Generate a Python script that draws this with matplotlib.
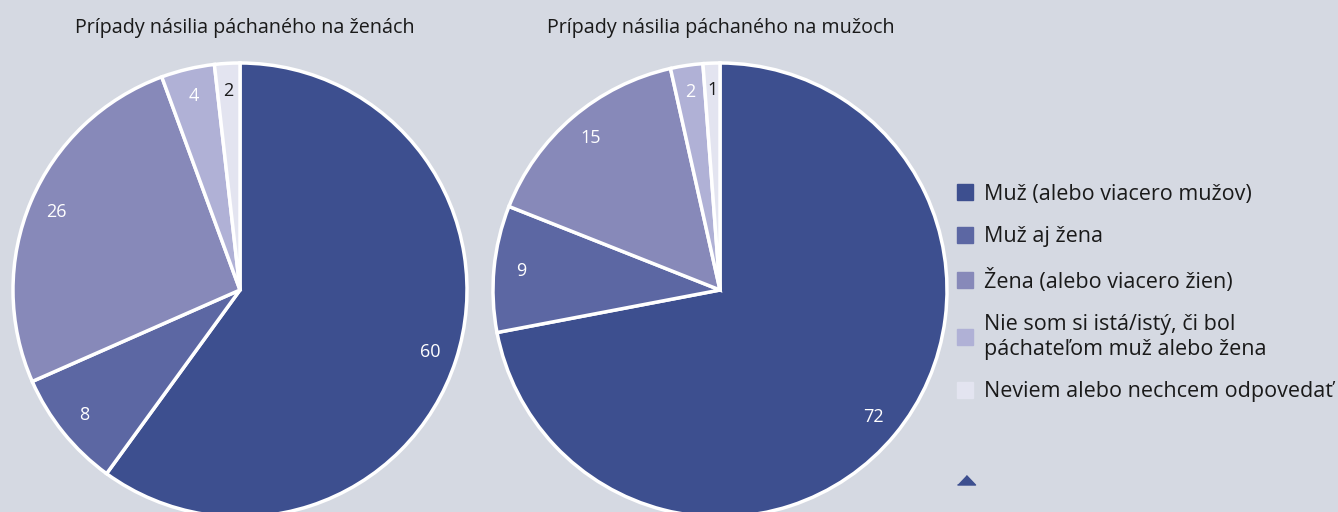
import matplotlib
matplotlib.use("Agg")
import matplotlib.pyplot as plt
from matplotlib.lines import Line2D

W, H = 1338, 512
BG = "#d5d9e2"

categories = [
    "Muž (alebo viacero mužov)",
    "Muž aj žena",
    "Žena (alebo viacero žien)",
    "Nie som si istá/istý, či bol\npáchateľom muž alebo žena",
    "Neviem alebo nechcem odpovedať",
]
# slice sizes (as drawn) and the printed labels
women_values = [60, 8.4, 26, 3.8, 1.8]
women_labels = ["60", "8", "26", "4", "2"]
men_values = [72, 9, 15.5, 2.3, 1.2]
men_labels = ["72", "9", "15", "2", "1"]
titles = ["Prípady násilia páchaného na ženách", "Prípady násilia páchaného na mužoch"]
colors = ["#3d4f8f", "#5c67a3", "#8789b9", "#b0b1d6", "#e3e4f0"]
label_colors = ["white", "white", "white", "white", "#1a1a1a"]

plt.rcParams["font.family"] = ["Open Sans", "DejaVu Sans"]

fig = plt.figure(figsize=(W / 100, H / 100), dpi=100, facecolor=BG)

R = 227
centers = [(240, 290), (720, 290)]
title_x = [245, 721]
for (cx, cy), vals, labs, title, tx in zip(centers, [women_values, men_values],
                                           [women_labels, men_labels], titles, title_x):
    ax = fig.add_axes([(cx - R) / W, (H - cy - R) / H, 2 * R / W, 2 * R / H])
    ax.set_facecolor("none")
    wedges, texts = ax.pie(
        vals, colors=colors, startangle=90, counterclock=False,
        labels=labs, labeldistance=0.88,
        wedgeprops=dict(edgecolor="white", linewidth=2.5),
        textprops=dict(fontsize=13),
        radius=1,
    )
    for t, c in zip(texts, label_colors):
        t.set_color(c)
        t.set_ha("center")
        t.set_va("center")
    ax.set_xlim(-1.0, 1.0)
    ax.set_ylim(-1.0, 1.0)
    ax.set_aspect("equal")
    ax.axis("off")
    for w in wedges:
        w.set_clip_on(False)
    fig.text(tx / W, 1 - 28 / H, title, ha="center", va="center",
             fontsize=14.2, color="#1a1a1a")

handles = [Line2D([], [], marker="s", linestyle="none", markersize=11,
                  markerfacecolor=c, markeredgecolor=c) for c in colors]
leg = fig.legend(handles, categories, loc="upper left",
                 bbox_to_anchor=(957 / W, 1 - 184 / H), frameon=False,
                 fontsize=15.5, handlelength=0.7, handletextpad=0.55,
                 labelspacing=0.99, borderaxespad=0, borderpad=0)
for t in leg.get_texts():
    t.set_color("#1a1a1a")
    t.set_linespacing(1.25)

ov = fig.add_axes([0, 0, 1, 1])
ov.set_xlim(0, W)
ov.set_ylim(H, 0)
ov.axis("off")
ov.plot([966], [480], marker=[(-1, -0.5), (1, -0.5), (0, 0.55)],
        markersize=13, color=colors[0], linestyle="none")

fig.savefig("out.png", dpi=100, facecolor=BG)
